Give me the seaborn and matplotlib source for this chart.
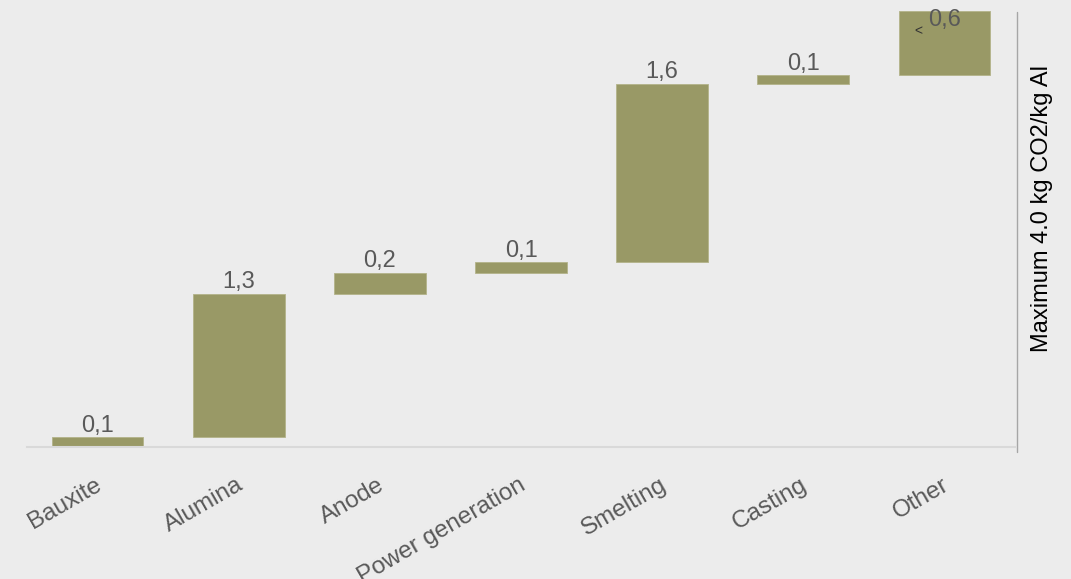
import numpy as np
import pandas as pd
import matplotlib
matplotlib.use("Agg")
import matplotlib.pyplot as plt
import matplotlib.transforms as mtransforms
import seaborn as sns

# ---- data ----
categories = ["Bauxite", "Alumina", "Anode", "Power generation", "Smelting", "Casting", "Other"]
step_values = [0.09, 1.33, 0.19, 0.10, 1.65, 0.08, 0.60]
value_labels = ["0,1", "1,3", "0,2", "0,1", "1,6", "0,1", "0,6"]
side_label = "Maximum 4.0 kg CO2/kg Al"

bottoms = np.concatenate([[0.0], np.cumsum(step_values)[:-1]])
tops = np.cumsum(step_values)
df = pd.DataFrame({"stage": categories, "value": step_values})

BG = "#ececec"
BAR = "#999966"
TXT = "#595959"

sns.set_theme(style="white")
plt.rcParams["font.family"] = ["Liberation Sans", "DejaVu Sans"]

fig = plt.figure(figsize=(10.71, 5.79), dpi=100, facecolor=BG)
ax = fig.add_axes([27 / 1071, 1 - 447 / 579, (1015 - 27) / 1071, 447 / 579])
ax.set_facecolor(BG)

sns.barplot(data=df, x="stage", y="value", bottom=bottoms, color=BAR,
            saturation=1, width=0.65, errorbar=None, ax=ax,
            edgecolor="#b3b38a", linewidth=0.6)

ax.set_xlim(-0.5, len(categories) - 0.5)
ax.set_ylim(0, 447 / 108)

# value labels
for i, (t, lab) in enumerate(zip(tops, value_labels)):
    if i == len(categories) - 1:
        ax.annotate(lab, (i, t), xytext=(0, 1), textcoords="offset points",
                    ha="center", va="top", fontsize=17, color=TXT, clip_on=False)
        ax.annotate("<", (i, t), xytext=(-19, -15), textcoords="offset points",
                    ha="center", va="center", fontsize=10, color="#333333")
    else:
        ax.annotate(lab, (i, t), xytext=(0, 0.5), textcoords="offset points",
                    ha="center", va="bottom", fontsize=17, color=TXT)

for s in ["top", "left", "right"]:
    ax.spines[s].set_visible(False)
ax.spines["bottom"].set_color("#d9d9d9")
ax.spines["bottom"].set_linewidth(1.5)

ax.set_yticks([])
ax.set_xlabel("")
ax.set_ylabel("")
ax.tick_params(axis="x", length=0, pad=20)
ax.set_xticks(range(len(categories)))
ax.set_xticklabels(categories, rotation=30, ha="right", rotation_mode="anchor",
                   fontsize=17.5, color=TXT)
shift = mtransforms.ScaledTranslation(-3 / 100, 1 / 100, fig.dpi_scale_trans)
for lbl in ax.get_xticklabels():
    lbl.set_transform(lbl.get_transform() + shift)

# right separator line
ax.plot([1.002, 1.002], [-0.011, 0.973], transform=ax.transAxes,
        color="#a6a6a6", lw=1.0, clip_on=False)

fig.text(1042 / 1071, 1 - 209 / 579, side_label, rotation=90, ha="center",
         va="center", fontsize=17, color="black")

fig.savefig("out.png", dpi=100, facecolor=BG)
